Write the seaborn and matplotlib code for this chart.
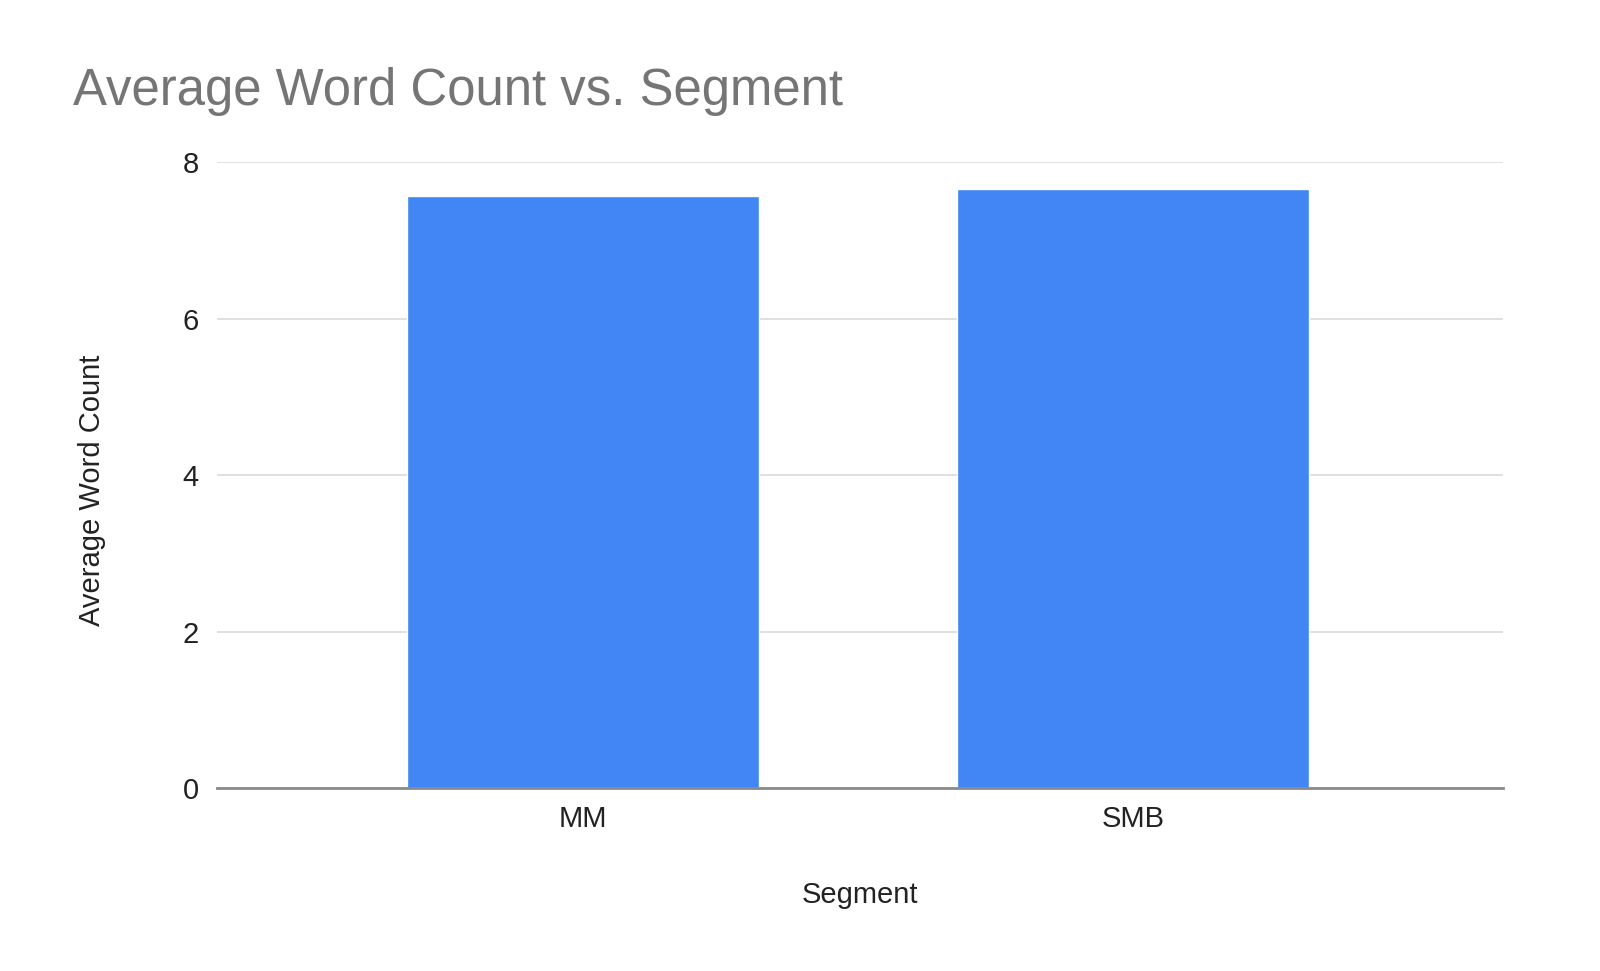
import matplotlib
matplotlib.use("Agg")
import matplotlib.pyplot as plt
import seaborn as sns
import pandas as pd

segments = ["MM", "SMB"]
avg_word_count = [7.56, 7.66]
y_ticks = [0, 2, 4, 6, 8]

df = pd.DataFrame({"Segment": segments, "Average Word Count": avg_word_count})

sns.set_style("white")
plt.rcParams["font.family"] = ["Liberation Sans", "DejaVu Sans"]

fig = plt.figure(figsize=(16, 9.71), dpi=100)
ax = fig.add_axes([0.1356, 0.1882, 0.8038, 0.645])

sns.barplot(data=df, x="Segment", y="Average Word Count", color="#4285F4",
            saturation=1, width=0.64, errorbar=None, ax=ax, zorder=3)

ax.set_ylim(0, 8)
ax.set_xlim(-0.665, 1.673)
ax.set_yticks(y_ticks)
ax.set_yticklabels([str(t) for t in y_ticks])
ax.grid(axis="y", color="#e0e0e0", linewidth=1.4, zorder=0)
ax.grid(axis="x", visible=False)
for s in ["top", "right", "left"]:
    ax.spines[s].set_visible(False)
ax.spines["bottom"].set_color("#8a8a8a")
ax.spines["bottom"].set_linewidth(2)
ax.spines["bottom"].set_zorder(4)

ax.tick_params(axis="y", length=0, pad=13, labelsize=21, labelcolor="#222222")
ax.tick_params(axis="x", length=0, pad=12, labelsize=21, labelcolor="#222222")

ax.set_xlabel("Segment", fontsize=21, color="#222222")
ax.xaxis.set_label_coords(0.5, -0.183)
ax.xaxis.label.set_verticalalignment("baseline")
ax.set_ylabel("Average Word Count", fontsize=21, color="#222222")
ax.yaxis.set_label_coords(-0.0972, 0.475)
ax.yaxis.label.set_verticalalignment("center")

fig.text(0.0456, 1 - 105 / 971, "Average Word Count vs. Segment",
         fontsize=36.6, color="#757575", ha="left", va="baseline")

fig.savefig("out.png", dpi=100, facecolor="white")
